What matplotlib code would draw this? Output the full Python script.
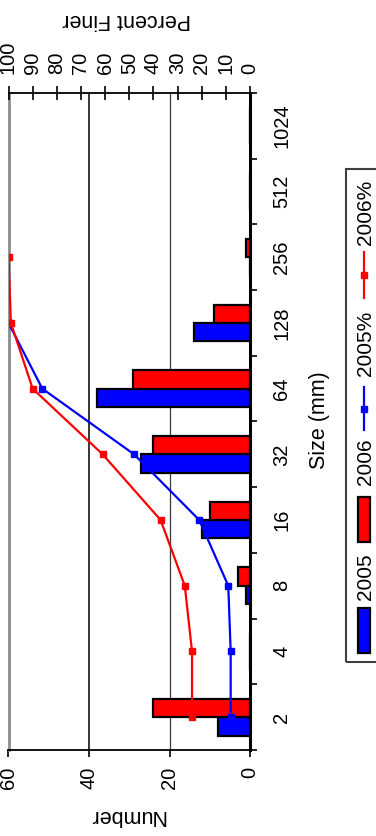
import numpy as np
import matplotlib
matplotlib.use("Agg")
import matplotlib.pyplot as plt
from matplotlib.patches import Rectangle
from matplotlib.lines import Line2D

plt.rcParams['font.family'] = ['Liberation Sans', 'DejaVu Sans']

# Particle size classes (mm) and pebble counts per survey year
sizes = ['2', '4', '8', '16', '32', '64', '128', '256', '512', '1024']
count_2005 = [8, 0, 1, 12, 27, 38, 14, 0, 0, 0]
count_2006 = [24, 0, 3, 10, 24, 29, 9, 1, 0, 0]
# Cumulative percent finer
finer_2005 = [8, 8, 9, 21, 48, 86, 100, np.nan, np.nan, np.nan]
finer_2006 = [24, 24, 27, 37, 61, 90, 99, 100, np.nan, np.nan]
number_ticks = [0, 20, 40, 60]
percent_ticks = [0, 10, 20, 30, 40, 50, 60, 70, 80, 90, 100]

BLUE = '#0000FF'
RED = '#FF0000'

W, H = 376, 836
fig = plt.figure(figsize=(W / 100, H / 100), dpi=100)


def fx(px):
    return px / W


def fy(py):
    return 1 - py / H


left, right, top, bottom = 8.5, 250, 93, 750
ax = fig.add_axes([fx(left), fy(bottom), (right - left) / W, (bottom - top) / H])

pos = np.arange(len(sizes))
bar_h = 0.28
ax.barh(pos - bar_h / 2, count_2005, height=bar_h, color=BLUE,
        edgecolor='black', linewidth=1.6, zorder=2)
ax.barh(pos + bar_h / 2, count_2006, height=bar_h, color=RED,
        edgecolor='black', linewidth=1.6, zorder=2)
ax.axvline(20, color='#3a3a3a', lw=0.9, zorder=0.5)
ax.axvline(40, color='black', lw=1.1, zorder=0.5)

ax.set_xlim(60, 0)
ax.set_ylim(-0.5, len(sizes) - 0.5)

ax.set_xticks(number_ticks)
ax.set_xticklabels([str(v) for v in number_ticks], rotation=90)
ax.tick_params(axis='x', direction='out', length=5, width=1.2,
               labelsize=14.5, pad=7)

ax.yaxis.tick_right()
ax.set_yticks(pos)
ax.set_yticklabels(sizes, rotation=90, va='center')
ax.set_yticks(np.arange(-0.5, len(sizes), 1), minor=True)
ax.tick_params(axis='y', which='major', length=0, labelsize=14.5, pad=16)
ax.tick_params(axis='y', which='minor', direction='out', length=5, width=1.2)

ax.spines['top'].set_visible(False)
ax.spines['left'].set_color('#8c8c8c')
ax.spines['left'].set_linewidth(2)
ax.spines['right'].set_linewidth(2.2)
ax.spines['bottom'].set_linewidth(1.3)

# Cumulative curves on the percent axis
ax2 = ax.twiny()
ax2.set_xlim(100, 0)
ax2.plot(finer_2005, pos, color=BLUE, lw=1.6, marker='s', ms=5, zorder=3)
ax2.plot(finer_2006, pos, color=RED, lw=1.6, marker='s', ms=5, zorder=3)
ax2.set_xticks(percent_ticks)
ax2.set_xticklabels([str(v) for v in percent_ticks], rotation=90)
ax2.tick_params(axis='x', direction='inout', length=10, width=1.2,
                labelsize=14.5, pad=9)
for side in ['left', 'right', 'bottom']:
    ax2.spines[side].set_visible(False)
ax2.spines['top'].set_linewidth(1.3)

# Axis titles
fig.text(fx(127), fy(815), 'Number', rotation=180, ha='center', va='center',
         fontsize=15.5)
fig.text(fx(127), fy(19), 'Percent Finer', rotation=180, ha='center',
         va='center', fontsize=15.5)
fig.text(fx(319), fy(420), 'Size (mm)', rotation=90, ha='center',
         va='center', fontsize=15.5)

# Legend, laid out along the vertical
fig.add_artist(Rectangle((fx(346), fy(662)), 40 / W, (662 - 169) / H,
                         fill=False, edgecolor='#404040', lw=1.5,
                         transform=fig.transFigure))
for y0, y1, col in [(608, 653, BLUE), (497, 542, RED)]:
    fig.add_artist(Rectangle((fx(358), fy(y1)), 12 / W, (y1 - y0) / H,
                             facecolor=col, edgecolor='black', lw=1.6,
                             transform=fig.transFigure))
for y0, y1, col in [(387, 430, BLUE), (252, 298, RED)]:
    fig.add_artist(Line2D([fx(364), fx(364)], [fy(y0), fy(y1)], color=col,
                          lw=1.6, transform=fig.transFigure))
    fig.add_artist(Line2D([fx(364)], [fy((y0 + y1) / 2)], color=col,
                          marker='s', ms=5, transform=fig.transFigure))
for yc, label in [(577, '2005'), (462, '2006'), (343, '2005%'), (212, '2006%')]:
    fig.text(fx(365), fy(yc), label, rotation=90, ha='center', va='center',
             fontsize=15)

fig.savefig('out.png', dpi=100)
